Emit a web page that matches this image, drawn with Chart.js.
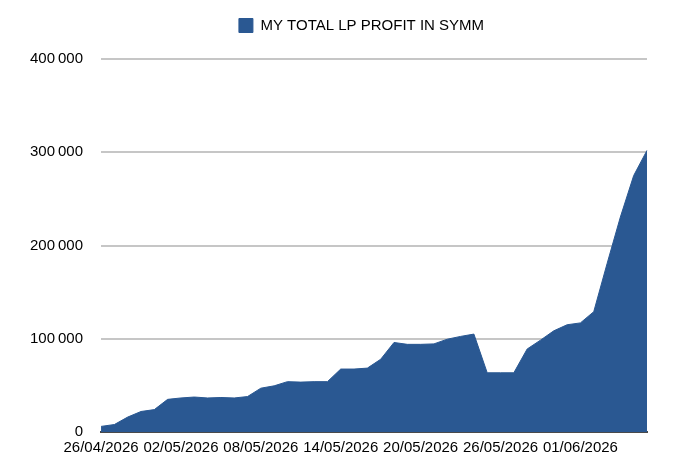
<!DOCTYPE html>
<html>
<head>
<meta charset="utf-8">
<script src="https://cdn.jsdelivr.net/npm/chart.js@4/dist/chart.umd.min.js"></script>
<style>
  html, body { margin: 0; padding: 0; background: #fff; }
  #wrap { width: 684px; height: 472px; }
</style>
</head>
<body>
<div id="wrap"><canvas id="profitChart"></canvas></div>
<script>
const dates = [
    '26/04/2026', '27/04/2026', '28/04/2026', '29/04/2026', '30/04/2026', '01/05/2026',
    '02/05/2026', '03/05/2026', '04/05/2026', '05/05/2026', '06/05/2026', '07/05/2026',
    '08/05/2026', '09/05/2026', '10/05/2026', '11/05/2026', '12/05/2026', '13/05/2026',
    '14/05/2026', '15/05/2026', '16/05/2026', '17/05/2026', '18/05/2026', '19/05/2026',
    '20/05/2026', '21/05/2026', '22/05/2026', '23/05/2026', '24/05/2026', '25/05/2026',
    '26/05/2026', '27/05/2026', '28/05/2026', '29/05/2026', '30/05/2026', '31/05/2026',
    '01/06/2026', '02/06/2026', '03/06/2026', '04/06/2026', '05/06/2026', '06/06/2026'
];
const lpProfit = [
    6000, 8000, 16000, 22000, 24000, 35000,
    36500, 37500, 36500, 37000, 36500, 38000,
    47000, 49500, 54000, 53500, 54000, 54000,
    67500, 67500, 68500, 78000, 96000, 94000,
    94000, 94500, 99500, 102500, 105000, 63500,
    63500, 63500, 89000, 98500, 108500, 115000,
    117000, 129000, 180500, 230500, 275000, 302000
];
const yTicks = [0, 100000, 200000, 300000, 400000];

const fontFamily = '"Liberation Sans", Arial, Helvetica, sans-serif';

// push the legend a bit to the right and leave more room under it
const legendTweak = {
    id: 'legendTweak',
    beforeInit(chart) {
        const fit = chart.legend.fit;
        chart.legend.fit = function() {
            fit.call(this);
            this.height += 16;
        };
    },
    afterLayout(chart) {
        chart.legend.left += 32;
        chart.legend.right += 32;
    }
};

const ctx = document.getElementById('profitChart').getContext('2d');
new Chart(ctx, {
    type: 'line',
    data: {
        labels: dates,
        datasets: [{
            label: 'MY TOTAL LP PROFIT IN SYMM',
            data: lpProfit,
            fill: 'origin',
            backgroundColor: '#2a5892',
            borderColor: '#2a5892',
            borderWidth: 1,
            pointRadius: 0,
            tension: 0
        }]
    },
    options: {
        responsive: true,
        maintainAspectRatio: false,
        animation: false,
        layout: {
            padding: { top: 8, left: 12, right: 37, bottom: 8 }
        },
        scales: {
            x: {
                offset: false,
                grid: { display: false, drawTicks: false },
                border: { display: true, color: '#4a4a4a', width: 2 },
                ticks: {
                    autoSkip: false,
                    maxRotation: 0,
                    padding: 7,
                    color: '#000',
                    font: { family: fontFamily, size: 15 },
                    callback: function(value, index) {
                        return index % 6 === 0 ? dates[index] : '';
                    }
                }
            },
            y: {
                min: 0,
                max: 400000,
                afterBuildTicks: function(axis) {
                    axis.ticks = yTicks.map(v => ({ value: v }));
                },
                grid: { color: '#c6c6c6', lineWidth: 2, drawTicks: false },
                border: { display: false },
                ticks: {
                    padding: 18,
                    color: '#000',
                    font: { family: fontFamily, size: 15 },
                    callback: function(value) {
                        return value === 0 ? '0' : String(value).replace(/\B(?=(\d{3})+(?!\d))/g, '\u2009');
                    }
                }
            }
        },
        plugins: {
            legend: {
                display: true,
                labels: {
                    boxWidth: 14,
                    boxHeight: 14,
                    padding: 10,
                    color: '#000',
                    font: { family: fontFamily, size: 15 }
                }
            },
            tooltip: { enabled: false }
        }
    },
    plugins: [legendTweak]
});
</script>
</body>
</html>
